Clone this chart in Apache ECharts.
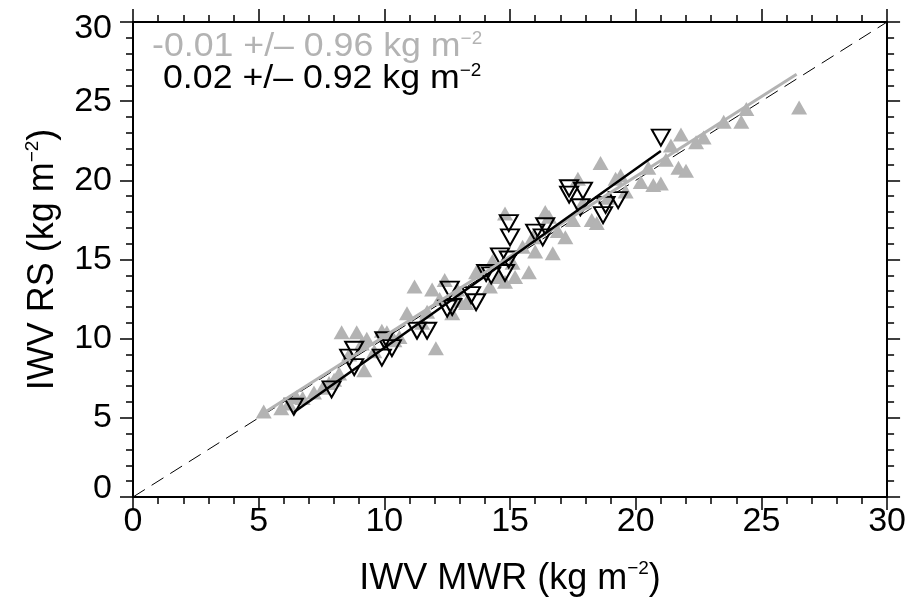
<!DOCTYPE html>
<html><head><meta charset="utf-8">
<script src="https://cdn.jsdelivr.net/npm/echarts@6/dist/echarts.min.js"></script>
<style>html,body{margin:0;padding:0;background:#fff}#c{width:909px;height:605px}</style>
</head><body><div id="c"></div>
<script>
// Reference data (IWV MWR, IWV RS) in kg m^-2
const grayMWR = [5.2,5.9,6.2,6.75,7.2,7.55,8.0,8.2,8.3,8.9,9.1,9.2,8.6,9.3,9.6,9.9,10.1,10.6,10.9,11.2,11.5,11.7,11.9,12.05,12.4,12.2,12.9,13.25,13.65,13.8,14.2,14.6,14.8,15.2,15.1,15.75,16.0,14.8,16.7,17.2,16.4,16.55,17.7,18.25,18.45,18.6,19.2,19.4,20.2,20.7,21.0,21.4,21.8,21.7,22.0,22.4,22.7,23.5,24.2,24.4,26.5,17.9,18.9,19.6,15.5,16.9,13.0,10.4,7.8,6.5,12.7,14.3,15.9,17.5,20.5,21.2];
const grayRS  = [5.4,5.6,5.9,6.25,6.6,6.9,7.4,7.8,10.4,10.4,9.7,8.0,9.0,10.0,9.2,10.5,10.4,10.1,11.6,13.3,11.0,11.7,13.1,9.4,13.7,12.5,13.1,12.25,14.2,14.3,13.3,13.9,13.6,13.9,14.8,14.2,15.5,17.9,15.4,16.4,18.0,17.7,20.1,17.5,17.3,21.1,20.1,20.3,19.9,19.7,19.8,22.2,22.9,20.8,20.6,22.4,22.7,23.7,23.7,24.5,24.6,18.6,18.9,19.3,15.8,16.8,12.4,9.9,7.2,6.3,11.6,14.9,16.4,17.5,20.8,21.3];
const blackMWR = [6.4,7.9,8.6,8.8,8.8,9.9,10.0,10.3,11.3,11.7,12.6,12.5,12.7,13.45,13.65,14.05,14.25,14.6,14.8,14.95,15.0,14.95,16.0,16.3,16.4,17.35,17.35,17.9,17.8,18.8,18.7,19.3,21.0];
const blackRS  = [5.7,6.8,8.8,9.3,8.2,8.8,9.9,9.4,10.5,10.5,13.1,11.9,12.0,12.75,12.3,14.15,14.0,15.2,14.15,15.0,16.4,17.3,16.7,16.4,17.1,19.5,19.1,19.35,18.3,18.45,17.8,18.75,22.7];
// regression line end points
const grayFitX = [5.2, 26.4];
const grayFitY = [5.3, 26.7];
const blackFitX = [6.4, 21.0];
const blackFitY = [5.35, 21.85];
const oneToOneX = [0, 30];
const oneToOneY = [0, 30];
const tickValues = [0, 5, 10, 15, 20, 25, 30];
const grayStat = '-0.01 +/\u2013 0.96 kg m';
const blackStat = '0.02 +/\u2013 0.92 kg m';
const supText = '\u22122';

const zip = (a, b) => a.map((v, i) => [v, b[i]]);
const FONT = 'Liberation Sans, Arial, sans-serif';
const GRAY = '#b3b3b3';

const baseAxis = (extra) => Object.assign({
  type: 'value', min: tickValues[0], max: tickValues[tickValues.length - 1], interval: 5,
  axisLine: { show: true, onZero: false, lineStyle: { color: '#000', width: 2 } },
  axisTick: { show: true, length: 13, lineStyle: { color: '#000', width: 1.5 } },
  minorTick: { show: true, splitNumber: 5, length: 7, lineStyle: { color: '#000', width: 1.5 } },
  splitLine: { show: false },
}, extra);

const chart = echarts.init(document.getElementById('c'), null, { renderer: 'canvas' });
chart.setOption({
  animation: false,
  backgroundColor: '#fff',
  grid: { left: 133, right: 20, top: 22, bottom: 108 },
  xAxis: [
    baseAxis({
      position: 'bottom',
      name: 'IWV MWR (kg m{sup|' + supText + '})', nameLocation: 'middle', nameGap: 62,
      nameTextStyle: { fontSize: 36, color: '#000', fontFamily: FONT, lineHeight: 40, rich: { sup: { fontSize: 19, verticalAlign: 'top', lineHeight: 40, fontFamily: FONT, color: '#000' } } },
      axisLabel: { fontSize: 34, color: '#000', fontFamily: FONT, margin: 8 }
    }),
    baseAxis({ position: 'top', axisLabel: { show: false } })
  ],
  yAxis: [
    baseAxis({
      position: 'left',
      name: 'IWV RS (kg m{sup|' + supText + '})', nameLocation: 'middle', nameGap: 70,
      nameTextStyle: { fontSize: 36, color: '#000', fontFamily: FONT, lineHeight: 40, rich: { sup: { fontSize: 19, verticalAlign: 'top', lineHeight: 40, fontFamily: FONT, color: '#000' } } },
      axisLabel: {
        fontSize: 34, color: '#000', fontFamily: FONT, margin: 21,
        formatter: v => v === 0 ? '{z|0}' : (v === 30 ? '{t|30}' : String(v)),
        rich: {
          z: { fontSize: 34, fontFamily: FONT, color: '#000', padding: [0, 0, 16, 0] },
          t: { fontSize: 34, fontFamily: FONT, color: '#000', padding: [14, 0, 0, 0] }
        }
      }
    }),
    baseAxis({ position: 'right', axisLabel: { show: false } })
  ],
  graphic: [
    { type: 'text', x: 152, y: 30, scaleX: 1.05, z: 100,
      style: { text: grayStat + '{s|' + supText + '}', fill: GRAY, font: '34px ' + FONT,
        rich: { s: { fontSize: 18, verticalAlign: 'top', lineHeight: 18, fill: GRAY, fontFamily: FONT } } } },
    { type: 'text', x: 163, y: 62, scaleX: 1.05, z: 100,
      style: { text: blackStat + '{s|' + supText + '}', fill: '#000', font: '34px ' + FONT,
        rich: { s: { fontSize: 18, verticalAlign: 'top', lineHeight: 18, fill: '#000', fontFamily: FONT } } } }
  ],
  series: [
    { type: 'line', data: zip(oneToOneX, oneToOneY), symbol: 'none', silent: true, z: 1,
      lineStyle: { color: '#000', width: 1, type: [14, 8] } },
    { type: 'scatter', data: zip(grayMWR, grayRS), symbol: 'triangle', symbolSize: [16, 14], z: 2,
      itemStyle: { color: GRAY, opacity: 1 } },
    { type: 'scatter', data: zip(blackMWR, blackRS), symbol: 'triangle', symbolRotate: 180, symbolSize: [18, 16], z: 3,
      itemStyle: { color: 'none', borderColor: '#000', borderWidth: 2, opacity: 1 } },
    { type: 'line', data: zip(grayFitX, grayFitY), symbol: 'none', z: 4,
      lineStyle: { color: GRAY, width: 3 } },
    { type: 'line', data: zip(blackFitX, blackFitY), symbol: 'none', z: 5,
      lineStyle: { color: '#000', width: 2.5 } }
  ]
});
</script></body></html>
